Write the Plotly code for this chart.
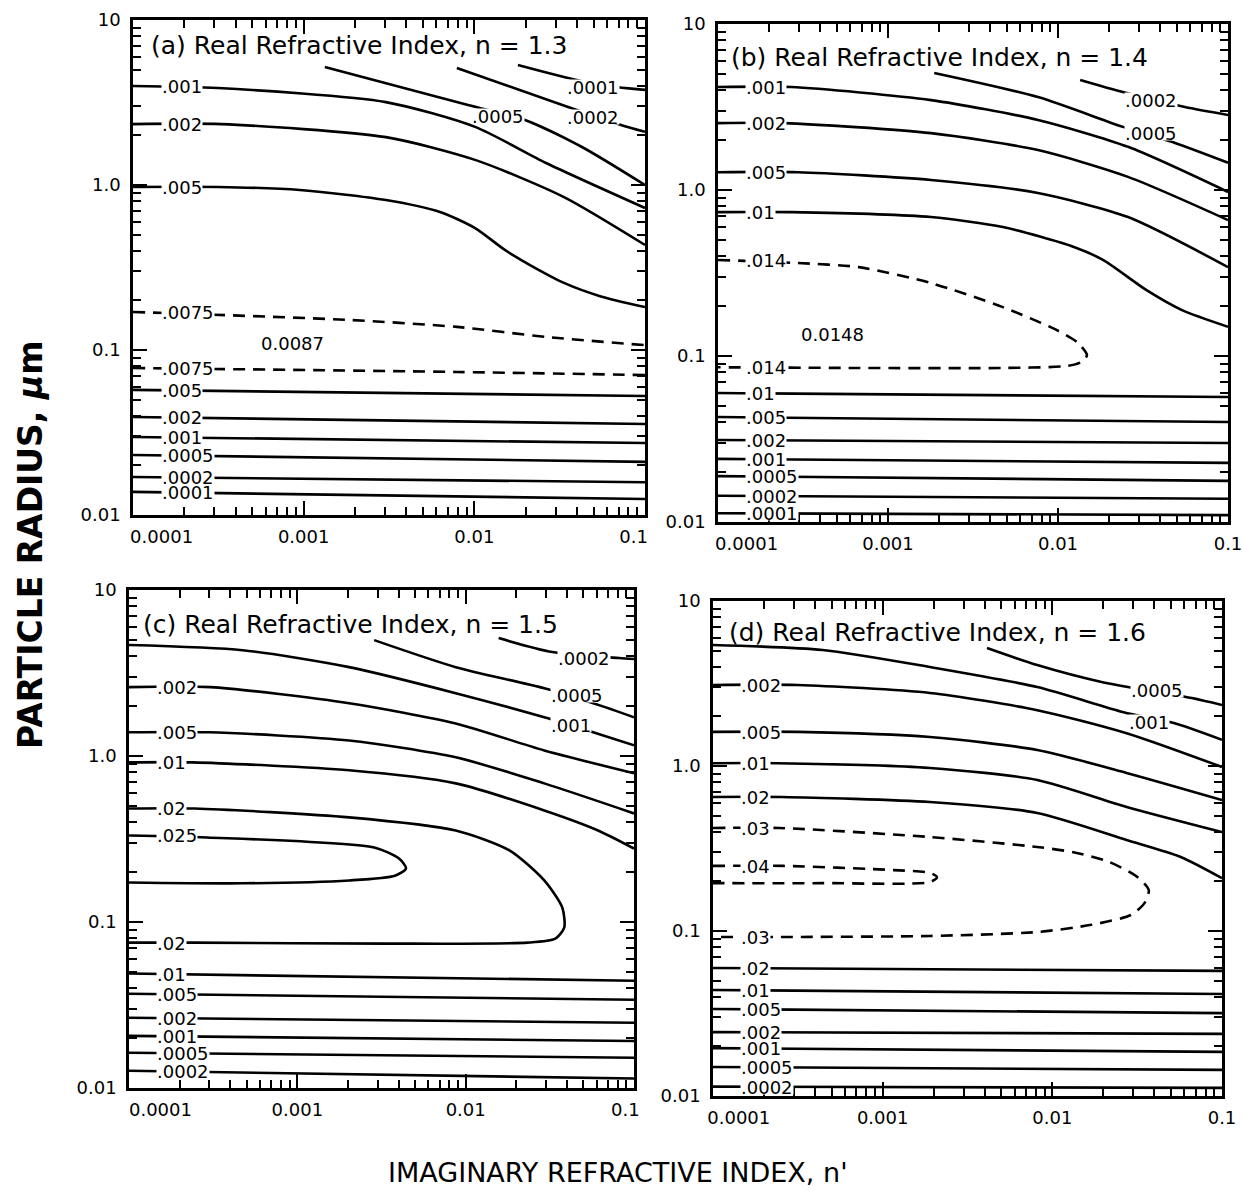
import numpy as np
import plotly.graph_objects as go

# ---------------- DATA (n' = imaginary index, r = particle radius in um) ----------------
FLAT_NP = [1e-4, 0.1]

# Panel (a) n = 1.3
A_NP_0001 = [0.018, 0.0354, 0.0545, 0.1]
A_R_0001 = [5.34, 4.45, 4.04, 3.77]
A_NP_0002 = [0.0079, 0.0354, 0.0723, 0.1]
A_R_0002 = [5.12, 2.97, 2.31, 2.10]
A_NP_0005 = [0.00133, 0.00918, 0.0198, 0.0427, 0.1]
A_R_0005 = [5.19, 3.05, 2.48, 1.70, 1.0]
A_NP_001 = [1e-4, 3.15e-4, 3.03e-3, 1.01e-2, 2.63e-2, 0.1]
A_R_001 = [3.98, 3.87, 3.18, 2.25, 1.36, 0.726]
A_NP_002 = [1e-4, 3.28e-4, 3.03e-3, 1.01e-2, 3.35e-2, 0.1]
A_R_002 = [2.34, 2.34, 1.95, 1.42, 0.845, 0.433]
A_NP_005 = [1e-4, 3.15e-4, 9.5e-4, 3.03e-3, 6.29e-3, 1.01e-2, 1.51e-2, 2.12e-2, 3.35e-2, 5.45e-2, 0.1]
A_R_005 = [0.973, 0.973, 0.933, 0.811, 0.686, 0.548, 0.404, 0.327, 0.255, 0.212, 0.182]
A_NP_0075U = [1e-4, 1.87e-3, 7.91e-3, 2.63e-2, 0.1]
A_R_0075U = [0.170, 0.152, 0.138, 0.120, 0.107]
A_NP_0075L = [1e-4, 7.91e-3, 0.1]
A_R_0075L = [0.0778, 0.0736, 0.0705]
A_R_005L = [0.0573, 0.0526]
A_R_002L = [0.0393, 0.0356]
A_R_001L = [0.0297, 0.0273]
A_R_0005L = [0.0231, 0.0210]
A_R_0002L = [0.0170, 0.0158]
A_R_0001L = [0.0138, 0.0125]
A_MAX = (8.55e-4, 0.110, "0.0087")

# Panel (b) n = 1.4
B_NP_0002 = [0.0135, 0.0241, 0.0558, 0.1]
B_R_0002 = [4.60, 3.89, 3.16, 2.83]
B_NP_0005 = [0.00187, 0.00762, 0.0241, 0.0488, 0.1]
B_R_0005 = [5.07, 3.63, 2.40, 1.92, 1.46]
B_NP_001 = [1e-4, 2.68e-4, 1.79e-3, 7.62e-3, 2.58e-2, 0.1]
B_R_001 = [4.17, 4.17, 3.48, 2.64, 1.82, 0.973]
B_NP_002 = [1e-4, 2.44e-4, 1.79e-3, 7.62e-3, 2.58e-2, 0.1]
B_R_002 = [2.53, 2.53, 2.20, 1.74, 1.20, 0.659]
B_NP_005 = [1e-4, 2.95e-4, 1.79e-3, 7.62e-3, 2.58e-2, 0.1]
B_R_005 = [1.28, 1.28, 1.15, 0.959, 0.687, 0.343]
B_NP_01 = [1e-4, 2.68e-4, 1.79e-3, 4.74e-3, 1.24e-2, 1.84e-2, 3.30e-2, 5.36e-2, 0.1]
B_R_01 = [0.736, 0.736, 0.687, 0.598, 0.454, 0.379, 0.250, 0.189, 0.150]
B_NP_014 = [1e-4, 2.95e-4, 6.75e-4, 1.79e-3, 4.74e-3, 9.73e-3, 1.31e-2, 1.48e-2, 1.37e-2, 1.13e-2, 4.74e-3, 6.75e-4, 1e-4]
B_R_014 = [0.379, 0.363, 0.343, 0.275, 0.197, 0.144, 0.120, 0.101, 0.0920, 0.0871, 0.0847, 0.0847, 0.0855]
B_R_01L = [0.0598, 0.0566]
B_R_005L = [0.0429, 0.0400]
B_R_002L = [0.0312, 0.0299]
B_R_001L = [0.0240, 0.0227]
B_R_0005L = [0.0189, 0.0177]
B_R_0002L = [0.0144, 0.0138]
B_R_0001L = [0.0113, 0.0110]
B_MAX = (4.74e-4, 0.134, "0.0148")

# Panel (c) n = 1.5
C_NP_0002 = [0.0157, 0.0327, 0.0815, 0.1]
C_R_0002 = [5.13, 4.23, 3.89, 3.84]
C_NP_0005 = [2.86e-3, 8.73e-3, 2.93e-2, 6.73e-2, 0.1]
C_R_0005 = [4.99, 3.43, 2.56, 1.97, 1.71]
C_NP_001 = [1e-4, 4.73e-4, 2.03e-3, 8.73e-3, 2.93e-2, 5.72e-2, 0.1]
C_R_001 = [4.66, 4.34, 3.43, 2.39, 1.71, 1.39, 1.16]
C_NP_002 = [1e-4, 3.05e-4, 2.03e-3, 8.73e-3, 2.93e-2, 0.1]
C_R_002 = [2.60, 2.60, 2.08, 1.57, 1.08, 0.787]
C_NP_005 = [1e-4, 2.97e-4, 2.03e-3, 8.73e-3, 2.93e-2, 0.1]
C_R_005 = [1.39, 1.39, 1.24, 0.982, 0.684, 0.451]
C_NP_01 = [1e-4, 2.39e-4, 2.03e-3, 8.73e-3, 2.93e-2, 6.12e-2, 0.1]
C_R_01 = [0.916, 0.916, 0.820, 0.684, 0.470, 0.356, 0.277]
C_NP_02 = [1e-4, 2.46e-4, 2.03e-3, 8.73e-3, 1.82e-2, 2.93e-2, 3.75e-2, 3.85e-2, 3.41e-2, 2.33e-2, 3.32e-3, 2.46e-4, 1e-4]
C_R_02 = [0.483, 0.483, 0.427, 0.356, 0.270, 0.178, 0.122, 0.0925, 0.0794, 0.0751, 0.0741, 0.0751, 0.0751]
C_NP_025 = [1e-4, 2.90e-4, 2.86e-3, 4.02e-3, 4.42e-3, 3.80e-3, 2.03e-3, 4.73e-4, 1e-4]
C_R_025 = [0.332, 0.323, 0.281, 0.241, 0.210, 0.190, 0.178, 0.171, 0.173]
C_R_01L = [0.0489, 0.0443]
C_R_005L = [0.0370, 0.0340]
C_R_002L = [0.0265, 0.0247]
C_R_001L = [0.0206, 0.0192]
C_R_0005L = [0.0163, 0.0152]
C_R_0002L = [0.0127, 0.0114]

# Panel (d) n = 1.6
D_NP_0005 = [4.12e-3, 8.15e-3, 1.95e-2, 6.64e-2, 0.1]
D_R_0005 = [5.19, 4.09, 3.23, 2.58, 2.34]
D_NP_001 = [1e-4, 4.42e-4, 1.90e-3, 8.15e-3, 2.63e-2, 5.2e-2, 0.1]
D_R_001 = [5.41, 5.05, 3.98, 3.01, 2.12, 1.82, 1.44]
D_NP_002 = [1e-4, 3.14e-4, 1.90e-3, 8.15e-3, 2.74e-2, 0.1]
D_R_002 = [3.10, 3.10, 2.77, 2.18, 1.58, 0.986]
D_NP_005 = [1e-4, 3.14e-4, 1.90e-3, 8.15e-3, 2.74e-2, 0.1]
D_R_005 = [1.61, 1.61, 1.50, 1.25, 0.908, 0.622]
D_NP_01 = [1e-4, 2.39e-4, 1.90e-3, 8.15e-3, 2.74e-2, 0.1]
D_R_01 = [1.04, 1.04, 0.973, 0.823, 0.565, 0.398]
D_NP_02 = [1e-4, 2.53e-4, 1.90e-3, 8.15e-3, 2.74e-2, 5.71e-2, 0.1]
D_R_02 = [0.649, 0.649, 0.605, 0.519, 0.356, 0.281, 0.209]
D_NP_03 = [1e-4, 2.46e-4, 1.90e-3, 8.15e-3, 1.33e-2, 2.17e-2, 3.18e-2, 3.70e-2, 3.50e-2, 2.90e-2, 1.70e-2, 8.15e-3, 1.90e-3, 2.70e-4, 1e-4]
D_R_03 = [0.421, 0.421, 0.371, 0.323, 0.300, 0.262, 0.212, 0.177, 0.148, 0.125, 0.109, 0.0986, 0.0933, 0.0920, 0.0920]
D_NP_04 = [1e-4, 2.60e-4, 1.16e-3, 1.90e-3, 2.09e-3, 1.90e-3, 4.42e-4, 1e-4]
D_R_04 = [0.248, 0.248, 0.234, 0.225, 0.212, 0.198, 0.195, 0.195]
D_R_02L = [0.0597, 0.0573]
D_R_01L = [0.0439, 0.0415]
D_R_005L = [0.0337, 0.0318]
D_R_002L = [0.0244, 0.0238]
D_R_001L = [0.0195, 0.0185]
D_R_0005L = [0.0150, 0.0144]
D_R_0002L = [0.0114, 0.0112]

PANEL_TITLES = ["(a) Real Refractive Index, n = 1.3", "(b) Real Refractive Index, n = 1.4",
                "(c) Real Refractive Index, n = 1.5", "(d) Real Refractive Index, n = 1.6"]
X_TICKVALS = [1e-4, 1e-3, 1e-2, 1e-1]
X_TICKTEXT = ["0.0001", "0.001", "0.01", "0.1"]
Y_TICKVALS = [0.01, 0.1, 1, 10]
Y_TICKTEXT = ["0.01", "0.1", "1.0", "10"]

# contour lines: (panel index, n', r, dashed, left label)
CONTOURS = [
    (0, A_NP_0001, A_R_0001, False, None), (0, A_NP_0002, A_R_0002, False, None),
    (0, A_NP_0005, A_R_0005, False, None), (0, A_NP_001, A_R_001, False, ".001"),
    (0, A_NP_002, A_R_002, False, ".002"), (0, A_NP_005, A_R_005, False, ".005"),
    (0, A_NP_0075U, A_R_0075U, True, ".0075"), (0, A_NP_0075L, A_R_0075L, True, ".0075"),
    (0, FLAT_NP, A_R_005L, False, ".005"), (0, FLAT_NP, A_R_002L, False, ".002"),
    (0, FLAT_NP, A_R_001L, False, ".001"), (0, FLAT_NP, A_R_0005L, False, ".0005"),
    (0, FLAT_NP, A_R_0002L, False, ".0002"), (0, FLAT_NP, A_R_0001L, False, ".0001"),

    (1, B_NP_0002, B_R_0002, False, None), (1, B_NP_0005, B_R_0005, False, None),
    (1, B_NP_001, B_R_001, False, ".001"), (1, B_NP_002, B_R_002, False, ".002"),
    (1, B_NP_005, B_R_005, False, ".005"), (1, B_NP_01, B_R_01, False, ".01"),
    (1, B_NP_014, B_R_014, True, ".014"),
    (1, FLAT_NP, B_R_01L, False, ".01"), (1, FLAT_NP, B_R_005L, False, ".005"),
    (1, FLAT_NP, B_R_002L, False, ".002"), (1, FLAT_NP, B_R_001L, False, ".001"),
    (1, FLAT_NP, B_R_0005L, False, ".0005"), (1, FLAT_NP, B_R_0002L, False, ".0002"),
    (1, FLAT_NP, B_R_0001L, False, ".0001"),

    (2, C_NP_0002, C_R_0002, False, None), (2, C_NP_0005, C_R_0005, False, None),
    (2, C_NP_001, C_R_001, False, None), (2, C_NP_002, C_R_002, False, ".002"),
    (2, C_NP_005, C_R_005, False, ".005"), (2, C_NP_01, C_R_01, False, ".01"),
    (2, C_NP_02, C_R_02, False, ".02"), (2, C_NP_025, C_R_025, False, ".025"),
    (2, FLAT_NP, C_R_01L, False, ".01"), (2, FLAT_NP, C_R_005L, False, ".005"),
    (2, FLAT_NP, C_R_002L, False, ".002"), (2, FLAT_NP, C_R_001L, False, ".001"),
    (2, FLAT_NP, C_R_0005L, False, ".0005"), (2, FLAT_NP, C_R_0002L, False, ".0002"),

    (3, D_NP_0005, D_R_0005, False, None), (3, D_NP_001, D_R_001, False, None),
    (3, D_NP_002, D_R_002, False, ".002"), (3, D_NP_005, D_R_005, False, ".005"),
    (3, D_NP_01, D_R_01, False, ".01"), (3, D_NP_02, D_R_02, False, ".02"),
    (3, D_NP_03, D_R_03, True, ".03"), (3, D_NP_04, D_R_04, True, ".04"),
    (3, FLAT_NP, D_R_02L, False, ".02"), (3, FLAT_NP, D_R_01L, False, ".01"),
    (3, FLAT_NP, D_R_005L, False, ".005"), (3, FLAT_NP, D_R_002L, False, ".002"),
    (3, FLAT_NP, D_R_001L, False, ".001"), (3, FLAT_NP, D_R_0005L, False, ".0005"),
    (3, FLAT_NP, D_R_0002L, False, ".0002"),
]

# extra (second) labels for closed contours' lower branch
LOWER_BRANCH_LABELS = [(1, B_R_014[-1], ".014"), (2, C_R_02[-1], ".02"), (3, D_R_03[-1], ".03")]
MAX_LABELS = [(0, A_MAX), (1, B_MAX)]

# ---------------- STYLE / LAYOUT ----------------
W, H = 1242, 1199
FONT = "DejaVu Sans"
# panel frames in pixels: (left, right, top, bottom)
FRAMES = [(133, 645, 20, 515), (718, 1228, 24, 522), (129, 634, 590, 1088), (713, 1222, 601, 1096)]
TITLE_POS = [(149, 46), (729, 57), (141, 624), (727, 632)]
# right-hand labels (panel, text, n', r)
RIGHT_LABELS = [
    (0, ".0001", 0.0496, 3.93), (0, ".0002", 0.0496, 2.58), (0, ".0005", 0.0138, 2.62),
    (1, ".0002", 0.0352, 3.48), (1, ".0005", 0.0352, 2.20),
    (2, ".0002", 0.0506, 3.89), (2, ".0005", 0.046, 2.32), (2, ".001", 0.0424, 1.53),
    (3, ".0005", 0.0412, 2.89), (3, ".001", 0.037, 1.85),
]
LEFT_LABEL_NP = 1.45e-4
LABEL_SIZE = 18
LABEL_BOX_H = 14
# pixel shifts for first / last x tick labels
FIRST_SHIFT_NBSP = [10, 10, 11, 9]
LAST_SHIFT_NBSP = [4, 0, 3, 0]

AX = [("x", "y"), ("x2", "y2"), ("x3", "y3"), ("x4", "y4")]

fig = go.Figure()
for p, npv, rv, dashed, lab in CONTOURS:
    xa, ya = AX[p]
    fig.add_trace(go.Scatter(
        x=npv, y=rv, mode="lines", xaxis=xa, yaxis=ya, showlegend=False, hoverinfo="skip",
        line=dict(color="black", width=2.6, shape="spline", smoothing=0.7,
                  dash="12px,8px" if dashed else "solid")))

annotations = []
lab_font = dict(family=FONT, size=LABEL_SIZE, color="black")
label_box = dict(font=lab_font, bgcolor="white", borderpad=0, height=LABEL_BOX_H,
                 showarrow=False, yanchor="middle", valign="middle")
for p, npv, rv, dashed, lab in CONTOURS:
    if lab is None:
        continue
    xa, ya = AX[p]
    annotations.append(dict(label_box, x=np.log10(LEFT_LABEL_NP), y=np.log10(rv[0]),
                            xref=xa, yref=ya, text=lab, xanchor="left"))
for p, r0, lab in LOWER_BRANCH_LABELS:
    xa, ya = AX[p]
    annotations.append(dict(label_box, x=np.log10(LEFT_LABEL_NP), y=np.log10(r0),
                            xref=xa, yref=ya, text=lab, xanchor="left"))
for p, (nx, ry, txt) in MAX_LABELS:
    xa, ya = AX[p]
    annotations.append(dict(x=np.log10(nx), y=np.log10(ry), xref=xa, yref=ya, text=txt,
                            showarrow=False, xanchor="center", yanchor="middle", font=lab_font))
for p, txt, nx, ry in RIGHT_LABELS:
    xa, ya = AX[p]
    annotations.append(dict(label_box, x=np.log10(nx), y=np.log10(ry), xref=xa, yref=ya,
                            text=txt, xanchor="center"))
for (tx, ty), t in zip(TITLE_POS, PANEL_TITLES):
    annotations.append(dict(x=tx / W, y=1 - ty / H, xref="paper", yref="paper", text=t,
                            showarrow=False, xanchor="left", yanchor="middle",
                            font=dict(family=FONT, size=25, color="black")))
annotations.append(dict(x=30 / W, y=1 - 545 / H, xref="paper", yref="paper",
                        xanchor="center", yanchor="middle",
                        text="<b>PARTICLE RADIUS, <i>μ</i>m</b>", textangle=-90, showarrow=False,
                        font=dict(family=FONT, size=33, color="black")))
annotations.append(dict(x=618 / W, y=1 - 1172 / H, xref="paper", yref="paper",
                        xanchor="center", yanchor="middle",
                        text="IMAGINARY REFRACTIVE INDEX, n'", showarrow=False,
                        font=dict(family=FONT, size=27, color="black")))

x_minor = [k * 10.0 ** e for e in (-4, -3, -2) for k in range(2, 10)]
y_minor = [k * 10.0 ** e for e in (-2, -1, 0) for k in range(2, 10)]

layout = dict(width=W, height=H, margin=dict(l=0, r=0, t=0, b=0, autoexpand=False),
              template="none",
              paper_bgcolor="white", plot_bgcolor="white", annotations=annotations,
              showlegend=False)

NB = "\u00a0"
for i, (l, r, t, b) in enumerate(FRAMES):
    sfx = "" if i == 0 else str(i + 1)
    ttext = list(X_TICKTEXT)
    ttext[0] = NB * FIRST_SHIFT_NBSP[i] + ttext[0]
    ttext[-1] = ttext[-1] + NB * LAST_SHIFT_NBSP[i]
    common = dict(type="log", showline=True, linecolor="black", linewidth=2.5, mirror="ticks",
                  ticks="inside", ticklen=14, tickwidth=2, tickcolor="black",
                  showgrid=False, zeroline=False, automargin=False,
                  ticklabeloverflow="allow",
                  tickfont=dict(family=FONT, size=18, color="black"))
    layout["xaxis" + sfx] = dict(common, domain=[l / W, r / W], range=[-4, -1],
                                 anchor="y" + sfx, tickmode="array", tickvals=X_TICKVALS,
                                 ticktext=ttext, ticklabelstandoff=4,
                                 minor=dict(ticks="inside", ticklen=8, tickwidth=1.6,
                                            tickcolor="black", tickmode="array",
                                            tickvals=x_minor, showgrid=False))
    layout["yaxis" + sfx] = dict(common, domain=[1 - b / H, 1 - t / H], range=[-2, 1],
                                 anchor="x" + sfx, tickmode="array", tickvals=Y_TICKVALS,
                                 ticktext=Y_TICKTEXT, ticklabelstandoff=6,
                                 minor=dict(ticks="inside", ticklen=8, tickwidth=1.6,
                                            tickcolor="black", tickmode="array",
                                            tickvals=y_minor, showgrid=False))

fig.update_layout(**layout)
fig.write_html("out.html")
